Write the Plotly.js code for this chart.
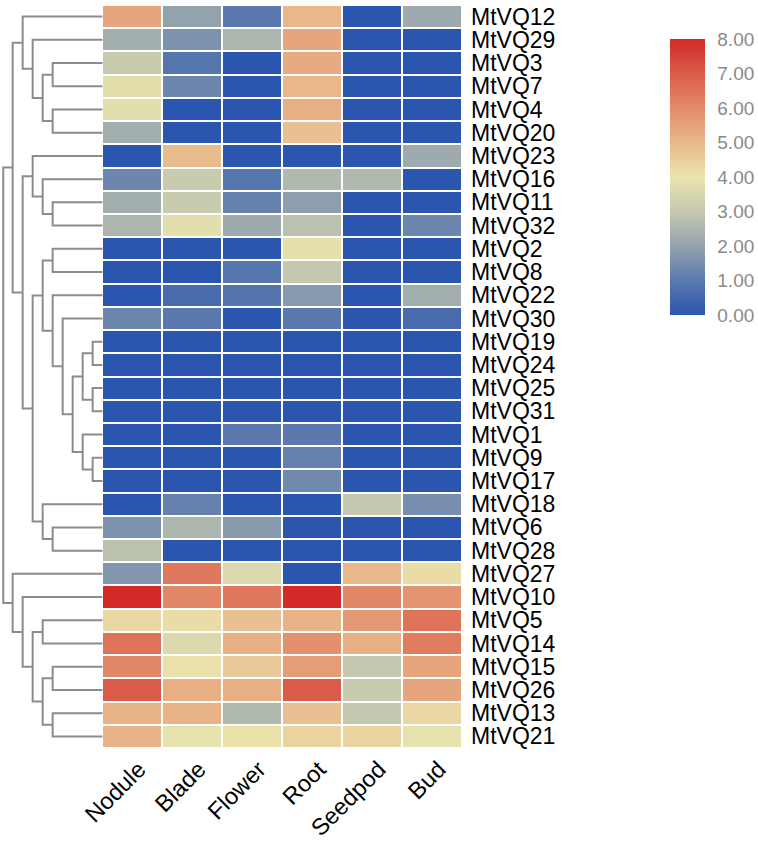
<!DOCTYPE html>
<html>
<head>
<meta charset="utf-8">
<script src="https://cdn.plot.ly/plotly-3.0.1.min.js"></script>
<style>html,body{margin:0;padding:0;background:#fff;}#chart{width:758px;height:841px;}</style>
</head>
<body>
<div id="chart"></div>
<script>
// Column (tissue) labels
const tissues = ["Nodule", "Blade", "Flower", "Root", "Seedpod", "Bud"];

// Gene row labels, top to bottom
const genes = ["MtVQ12","MtVQ29","MtVQ3","MtVQ7","MtVQ4","MtVQ20","MtVQ23","MtVQ16","MtVQ11","MtVQ32",
  "MtVQ2","MtVQ8","MtVQ22","MtVQ30","MtVQ19","MtVQ24","MtVQ25","MtVQ31","MtVQ1","MtVQ9","MtVQ17",
  "MtVQ18","MtVQ6","MtVQ28","MtVQ27","MtVQ10","MtVQ5","MtVQ14","MtVQ15","MtVQ26","MtVQ13","MtVQ21"];

// Expression values (Nodule, Blade, Flower, Root, Seedpod, Bud)
const MtVQ12 = [5.4, 2.0, 1.0, 5.0, 0, 2.2];
const MtVQ29 = [2.3, 1.6, 2.5, 5.4, 0, 0];
const MtVQ3  = [3.1, 0.9, 0, 5.3, 0, 0];
const MtVQ7  = [3.8, 1.3, 0, 5.0, 0, 0];
const MtVQ4  = [3.8, 0, 0, 5.2, 0, 0];
const MtVQ20 = [2.3, 0, 0, 4.8, 0, 0];
const MtVQ23 = [0, 4.9, 0, 0, 0, 2.2];
const MtVQ16 = [1.3, 3.1, 0.9, 2.6, 2.6, 0];
const MtVQ11 = [2.3, 3.1, 1.2, 1.9, 0, 0];
const MtVQ32 = [2.5, 3.8, 2.2, 2.8, 0, 1.3];
const MtVQ2  = [0, 0, 0, 3.85, 0, 0];
const MtVQ8  = [0, 0, 0.9, 3.0, 0, 0];
const MtVQ22 = [0, 0.6, 0.85, 1.8, 0, 2.3];
const MtVQ30 = [1.3, 1.0, 0, 1.0, 0, 0.6];
const MtVQ19 = [0, 0, 0, 0, 0, 0];
const MtVQ24 = [0, 0, 0, 0, 0, 0];
const MtVQ25 = [0, 0, 0, 0, 0, 0];
const MtVQ31 = [0, 0, 0, 0, 0, 0];
const MtVQ1  = [0, 0, 1.0, 1.0, 0, 0];
const MtVQ9  = [0, 0, 0, 1.2, 0, 0];
const MtVQ17 = [0, 0, 0, 1.4, 0, 0];
const MtVQ18 = [0, 1.2, 0, 0, 3.0, 1.5];
const MtVQ6  = [1.6, 2.5, 1.8, 0, 0, 0];
const MtVQ28 = [2.8, 0, 0, 0, 0, 0];
const MtVQ27 = [1.7, 6.4, 3.6, 0, 5.0, 4.2];
const MtVQ10 = [8.0, 6.1, 6.4, 8.0, 6.1, 5.8];
const MtVQ5  = [4.3, 4.2, 4.8, 5.1, 5.7, 6.5];
const MtVQ14 = [6.5, 3.6, 5.2, 5.9, 5.2, 6.3];
const MtVQ15 = [6.1, 4.1, 4.6, 5.6, 3.0, 5.4];
const MtVQ26 = [7.0, 5.2, 5.2, 7.0, 3.1, 5.4];
const MtVQ13 = [5.1, 5.1, 2.6, 4.8, 3.0, 4.3];
const MtVQ21 = [5.1, 3.9, 4.1, 4.4, 4.4, 3.9];

const values = [MtVQ12, MtVQ29, MtVQ3, MtVQ7, MtVQ4, MtVQ20, MtVQ23, MtVQ16, MtVQ11, MtVQ32,
  MtVQ2, MtVQ8, MtVQ22, MtVQ30, MtVQ19, MtVQ24, MtVQ25, MtVQ31, MtVQ1, MtVQ9, MtVQ17,
  MtVQ18, MtVQ6, MtVQ28, MtVQ27, MtVQ10, MtVQ5, MtVQ14, MtVQ15, MtVQ26, MtVQ13, MtVQ21];

// Row dendrogram: merges [left, right, height]; "#k" refers to merge k
const merges = [
  ["MtVQ3", "MtVQ7", 5],    // 0
  ["MtVQ4", "MtVQ20", 5],   // 1
  ["#0", "#1", 6],          // 2
  ["MtVQ29", "#2", 7],      // 3
  ["MtVQ12", "#3", 8],      // 4
  ["MtVQ11", "MtVQ32", 5],  // 5
  ["MtVQ16", "#5", 6],      // 6
  ["MtVQ23", "#6", 7],      // 7
  ["MtVQ2", "MtVQ8", 5],    // 8
  ["MtVQ19", "MtVQ24", 1],  // 9
  ["MtVQ25", "MtVQ31", 1],  // 10
  ["#9", "#10", 2],         // 11
  ["MtVQ9", "MtVQ17", 1],   // 12
  ["MtVQ1", "#12", 2],      // 13
  ["#11", "#13", 3],        // 14
  ["MtVQ30", "#14", 4],     // 15
  ["MtVQ22", "#15", 5],     // 16
  ["#8", "#16", 6],         // 17
  ["MtVQ6", "MtVQ28", 5],   // 18
  ["MtVQ18", "#18", 6],     // 19
  ["#17", "#19", 7],        // 20
  ["#7", "#20", 8],         // 21
  ["#4", "#21", 9],         // 22
  ["MtVQ5", "MtVQ14", 6],   // 23
  ["MtVQ15", "MtVQ26", 5],  // 24
  ["MtVQ13", "MtVQ21", 5],  // 25
  ["#24", "#25", 6],        // 26
  ["#23", "#26", 7],        // 27
  ["MtVQ10", "#27", 8],     // 28
  ["MtVQ27", "#28", 9],     // 29
  ["#22", "#29", 9.94]      // 30
];

// Build dendrogram line coordinates
const nodes = [];
function pos(id) {
  if (id.startsWith("#")) return nodes[parseInt(id.slice(1))];
  return {y: genes.indexOf(id), h: 0};
}
const dx = [], dy = [];
merges.forEach(m => {
  const a = pos(m[0]), b = pos(m[1]), h = m[2];
  dx.push(a.h, h, h, b.h, null);
  dy.push(a.y, a.y, b.y, b.y, null);
  nodes.push({y: (a.y + b.y) / 2, h: h});
});

const W = 758, H = 841;
const hmLeft = 102, hmRight = 462, hmTop = 5, hmBottom = 748;

const rowIdx = genes.map((g, i) => i);
const colIdx = tissues.map((t, i) => i);

const colorscale = [
  [0.0, "#2B56AF"], [0.125, "#5B79AE"], [0.25, "#93A3AE"], [0.375, "#C4C8AE"],
  [0.5, "#EAE5AD"], [0.625, "#E9B78A"], [0.75, "#E38B6B"], [0.875, "#DA5C48"], [1.0, "#D32A28"]
];

const traces = [
  {
    type: "heatmap",
    z: values,
    x: colIdx,
    y: rowIdx,
    zmin: 0, zmax: 8,
    colorscale: colorscale,
    xgap: 2, ygap: 2,
    hoverinfo: "z",
    colorbar: {
      x: 670 / W, xanchor: "left", xpad: 0,
      y: 1 - 177 / H, yanchor: "middle", ypad: 0,
      len: 276 / H, lenmode: "fraction",
      thickness: 35, thicknessmode: "pixels",
      outlinewidth: 0,
      tickvals: [0, 1, 2, 3, 4, 5, 6, 7, 8],
      tickformat: ".2f",
      ticks: "outside", ticklen: 9, tickcolor: "rgba(0,0,0,0)",
      tickfont: {family: "Liberation Sans, Arial, sans-serif", size: 19, color: "#8a8a8a"}
    }
  },
  {
    type: "scatter", mode: "lines",
    x: dx, y: dy,
    xaxis: "x2", yaxis: "y",
    line: {color: "#8c8c8c", width: 2},
    hoverinfo: "skip", showlegend: false
  }
];

const layout = {
  width: W, height: H,
  margin: {l: 0, r: 0, t: 0, b: 0},
  paper_bgcolor: "#fff", plot_bgcolor: "#fff",
  showlegend: false,
  xaxis: {
    domain: [hmLeft / W, hmRight / W],
    range: [-0.5, 5.5],
    tickvals: colIdx, ticktext: tissues,
    tickangle: -45, ticks: "",
    ticklabelshift: 7, ticklabelstandoff: 2,
    showgrid: false, zeroline: false, showline: false,
    tickfont: {family: "Liberation Sans, Arial, sans-serif", size: 23.5, color: "#000"}
  },
  yaxis: {
    domain: [1 - hmBottom / H, 1 - hmTop / H],
    range: [31.5, -0.5],
    tickvals: rowIdx, ticktext: genes,
    side: "right", ticks: "", ticklabelstandoff: 8,
    showgrid: false, zeroline: false, showline: false,
    tickfont: {family: "Liberation Sans, Arial, sans-serif", size: 23, color: "#000"}
  },
  xaxis2: {
    domain: [0, 102.67 / W],
    range: [10.267, 0],
    showgrid: false, zeroline: false, showline: false, showticklabels: false, ticks: "",
    anchor: "y"
  }
};

Plotly.newPlot("chart", traces, layout, {displayModeBar: false, staticPlot: true});
</script>
</body>
</html>
